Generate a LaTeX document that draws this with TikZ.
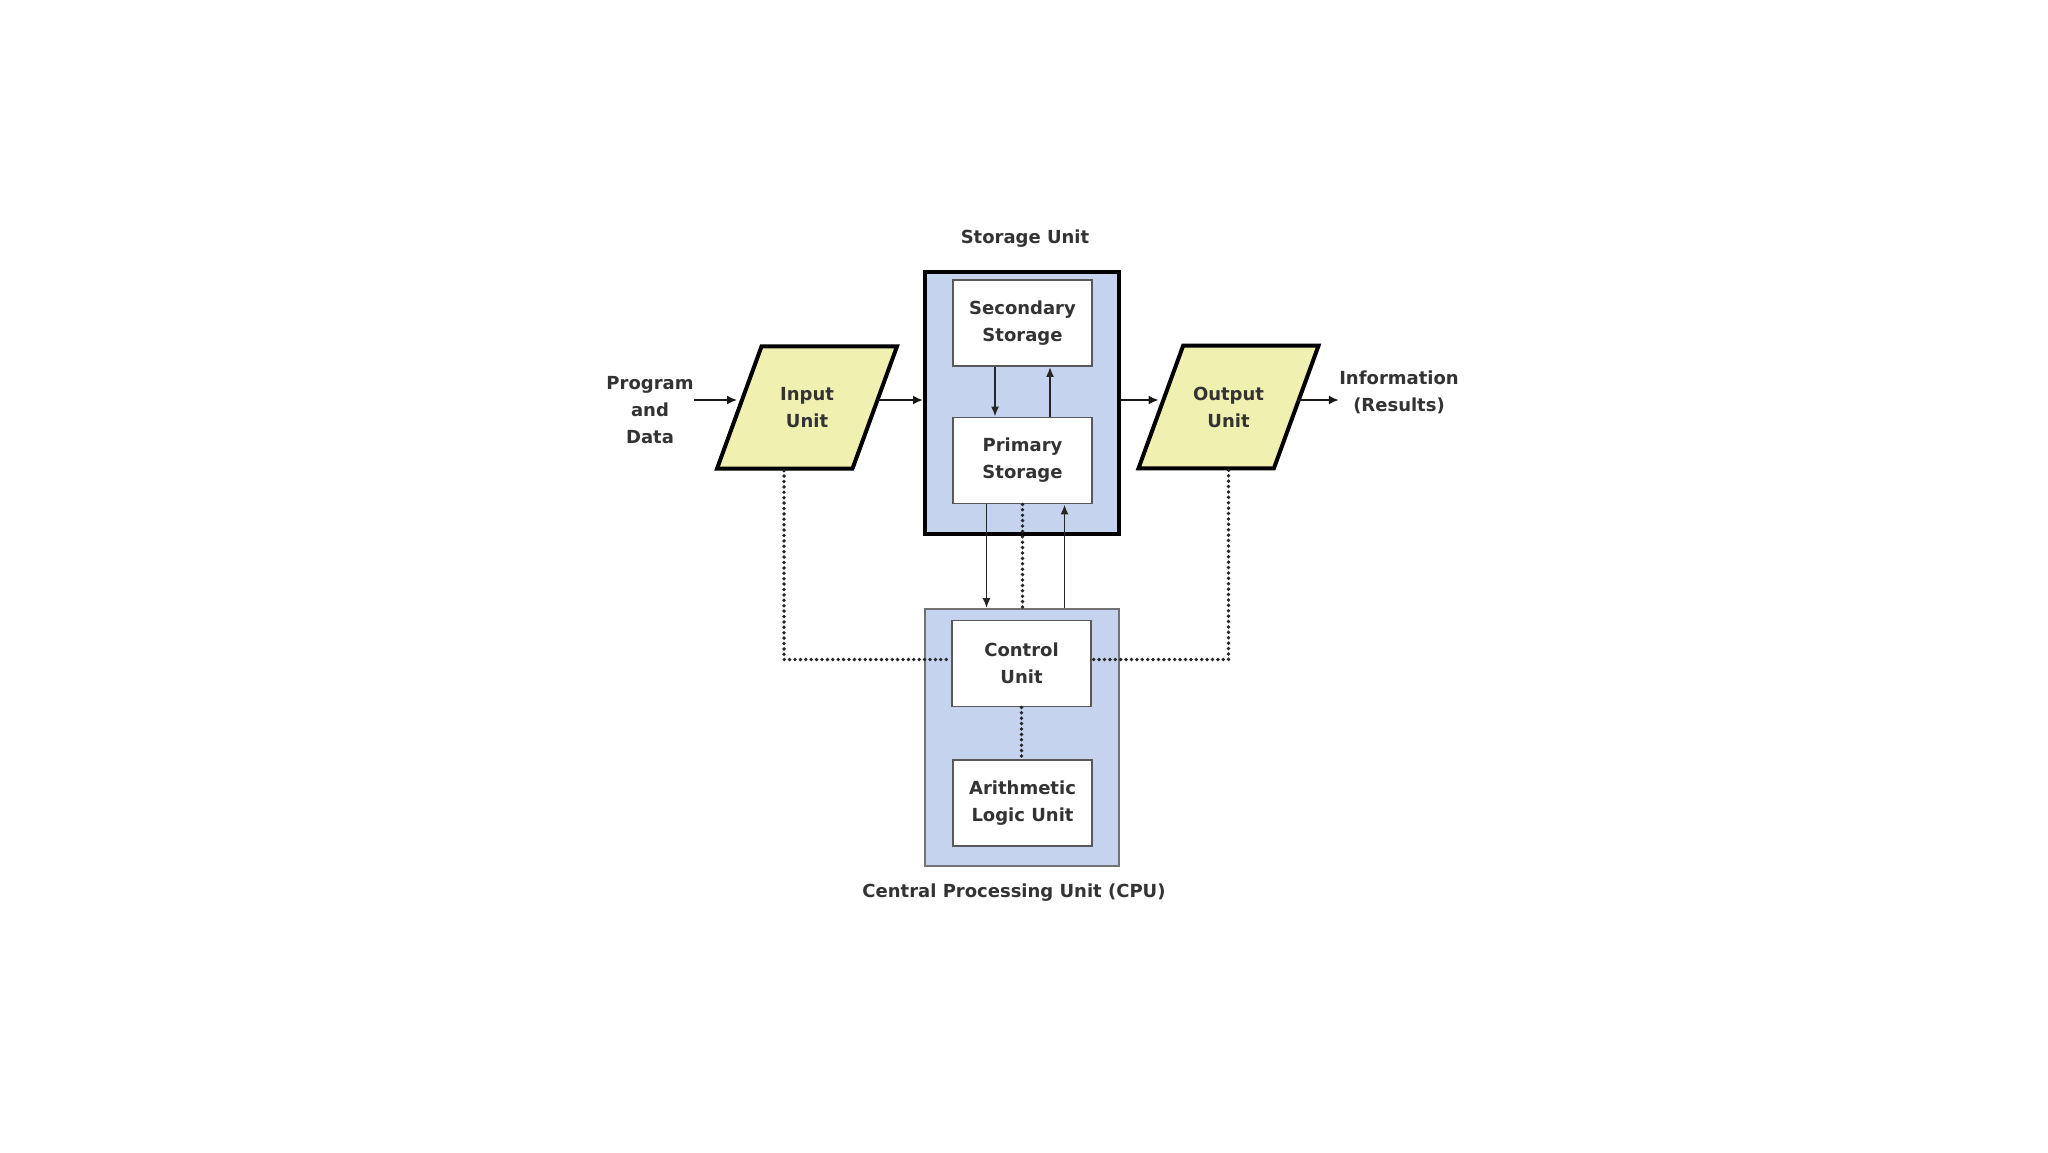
\documentclass[tikz,border=0pt]{standalone}
\usepackage{fontspec}
\setmainfont{DejaVu Sans}
\usepackage{xcolor}
\usepackage{tikz}
\usetikzlibrary{arrows.meta,positioning,shapes.geometric,calc}
\definecolor{unitblue}{HTML}{C5D3EE}
\definecolor{ioyellow}{HTML}{F0F0B0}
\definecolor{textgray}{HTML}{333333}

\begin{document}
\begin{tikzpicture}[x=0.5pt, y=-0.5pt,
    every node/.style={font=\fontsize{9}{13.5}\selectfont\bfseries, text=textgray, align=center},
    group/.style={rectangle, fill=unitblue, minimum width=97pt, inner sep=0pt},
    part/.style={rectangle, draw=black!65, line width=0.9pt, fill=white, minimum width=69.5pt, minimum height=43pt, inner sep=0pt},
    io/.style={trapezium, trapezium left angle=70, trapezium right angle=110, trapezium stretches body, draw=black, line width=2pt, fill=ioyellow, minimum width=90pt, inner xsep=0pt, inner ysep=20.5pt},
    caption/.style={inner sep=0pt},
    arrow/.style={-{Latex[length=5pt,width=4.5pt]}, line width=1.4pt, black!90},
    thinarrow/.style={-{Latex[length=5pt,width=4pt]}, line width=0.9pt, black!85},
    dots/.style={line width=1.9pt, dash pattern=on 0pt off 2.7pt, line cap=round, black!85}
]
    \useasboundingbox[fill=white] (0,0) rectangle (2048,1152);

    % storage unit
    \node[group, draw=black, line width=2pt, minimum height=131pt] (storage) at (1022,403) {};
    \node[part] (sec)  at (1022.5,323)   {Secondary\\Storage};
    \node[part] (prim) at (1022.5,460.5) {Primary\\Storage};
    \node[caption] (storagelbl) at (1025,239) {Storage Unit};

    % cpu
    \node[group, draw=black!55, line width=0.8pt, minimum height=128.5pt] (cpu) at (1022,737.5) {};
    \node[part] (ctrl) at (1021.5,663.5) {Control\\Unit};
    \node[part] (alu)  at (1022.5,803)   {Arithmetic\\Logic Unit};
    \node[caption] (cpulbl) at (1014,893) {Central Processing Unit (CPU)};

    % input / output
    \node[io] (input)  at (807,407.5)  {Input\\Unit};
    \node[io] (output) at (1228.5,407) {Output\\Unit};
    \node[caption] (prog) at (650,410)  {Program\\and\\Data};
    \node[caption] (info) at (1399,392) {Information\\(Results)};
    \coordinate (flow) at (0,400);

    \draw[arrow] (prog.east |- flow) -- (input.west |- flow);
    \draw[arrow] (input.east |- flow) -- (storage.west |- flow);
    \draw[arrow] (storage.east |- flow) -- (output.west |- flow);
    \draw[arrow] (output.east |- flow) -- (info.west |- flow);

    \draw[thinarrow] ([xshift=-13.75pt]sec.south) -- ([xshift=-13.75pt]prim.north);
    \draw[thinarrow] ([xshift=13.75pt]prim.north) -- ([xshift=13.75pt]sec.south);
    \draw[thinarrow] ([xshift=-18pt]prim.south) -- ([xshift=-18pt]prim.south |- cpu.north);
    \draw[thinarrow] ([xshift=21pt]prim.south |- cpu.north) -- ([xshift=21pt]prim.south);

    \draw[dots] (prim.south) -- (prim.south |- cpu.north);
    \draw[dots] (ctrl.south) -- (ctrl.south |- alu.north);
    \draw[dots] (input.bottom side) |- ([yshift=2pt]ctrl.west);
    \draw[dots] (output.south) |- ([yshift=2pt]ctrl.east);
\end{tikzpicture}
\end{document}
